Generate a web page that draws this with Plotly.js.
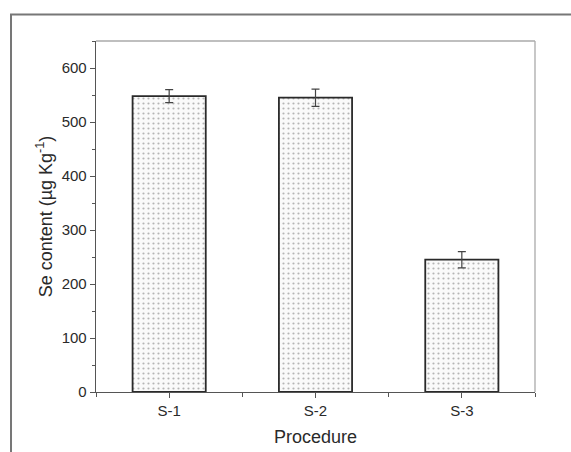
<!DOCTYPE html>
<html>
<head>
<meta charset="utf-8">
<script src="https://cdn.plot.ly/plotly-3.0.1.min.js"></script>
<style>html,body{margin:0;padding:0;background:#fff;}#chart{width:571px;height:452px;}</style>
</head>
<body>
<div id="chart"></div>
<script>
const categories = ["S-1", "S-2", "S-3"];
const positions = [0, 1, 2];
const seContent = [548, 545, 245];
const seError = [12, 16, 15];
const yTicks = [0, 100, 200, 300, 400, 500, 600];

const trace = {
  type: 'bar',
  x: positions,
  y: seContent,
  width: 0.5,
  marker: {
    color: '#ffffff',
    line: {color: '#2a2a2a', width: 1.8},
    pattern: {shape: '.', fgcolor: '#b5b5b5', bgcolor: '#fafafa', size: 5, solidity: 0.15}
  },
  error_y: {type: 'data', array: seError, visible: true, color: '#444444', thickness: 1.2, width: 4},
  hoverinfo: 'none'
};

const layout = {
  width: 571, height: 452,
  margin: {l: 96, r: 36, t: 41, b: 60},
  paper_bgcolor: '#ffffff', plot_bgcolor: '#ffffff',
  font: {family: 'Liberation Sans, Arial, sans-serif', color: '#2a2a2a', size: 15},
  showlegend: false,
  xaxis: {
    range: [-0.5, 2.5],
    tickmode: 'array', tickvals: positions, ticktext: categories,
    ticks: 'outside', ticklen: 5, tickwidth: 1, tickcolor: '#555',
    showline: true, linecolor: '#555', linewidth: 1.3,
    showgrid: false, zeroline: false,
    minor: {tickmode: 'array', tickvals: [-0.5, 0.5, 1.5, 2.5], ticks: 'outside', ticklen: 4, tickcolor: '#555'},
    title: {text: 'Procedure', font: {size: 18, color: '#2a2a2a'}, standoff: 12},
    tickfont: {size: 15}
  },
  yaxis: {
    range: [0, 650],
    tickmode: 'array', tickvals: yTicks,
    ticks: 'outside', ticklen: 5, tickwidth: 1, tickcolor: '#555',
    showline: true, linecolor: '#555', linewidth: 1.3,
    showgrid: false, zeroline: false,
    minor: {dtick: 50, ticks: 'outside', ticklen: 3, tickcolor: '#555'},
    title: {text: 'Se content (µg Kg<sup>-1</sup>)', font: {size: 18, color: '#2a2a2a'}, standoff: 4},
    tickfont: {size: 15}
  },
  shapes: [
    {type: 'line', xref: 'paper', yref: 'paper', x0: 0, x1: 1, y0: 1, y1: 1, line: {color: '#aaaaaa', width: 1.3}},
    {type: 'line', xref: 'paper', yref: 'paper', x0: 1, x1: 1, y0: 0, y1: 1, line: {color: '#aaaaaa', width: 1.3}},
    {type: 'rect', xref: 'paper', yref: 'paper', x0: -0.1936, x1: 1.3, y0: -0.4, y1: 1.0756, line: {color: '#777777', width: 2}, layer: 'above'}
  ]
};

Plotly.newPlot('chart', [trace], layout, {displayModeBar: false, staticPlot: true});
</script>
</body>
</html>
